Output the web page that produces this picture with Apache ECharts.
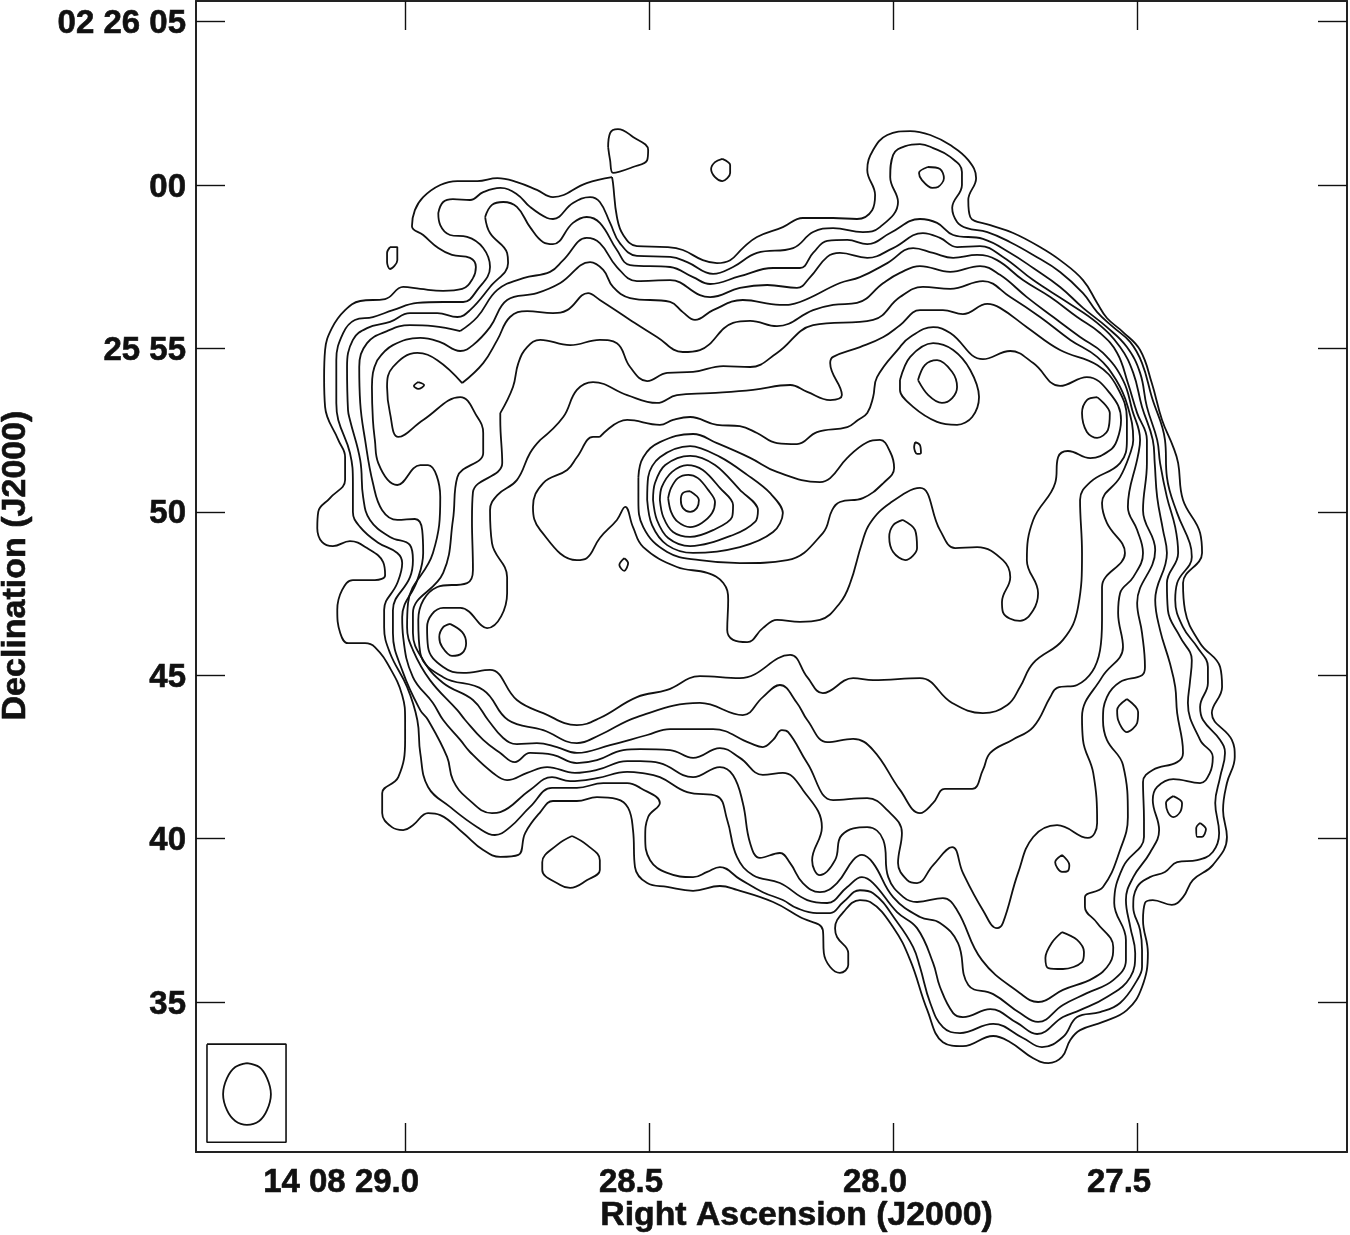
<!DOCTYPE html>
<html><head><meta charset="utf-8">
<style>html,body{margin:0;padding:0;background:#fff}#c{width:1350px;height:1235px}</style>
<script src="https://cdn.jsdelivr.net/npm/echarts@6/dist/echarts.min.js"></script>
</head><body><div id="c"></div>
<script>
// Right ascension in seconds after 14h 08m; declination in arcseconds after +02d 25m.
const raTicks = [29.0, 28.5, 28.0, 27.5];
const raTickLabels = ['14 08 29.0', '28.5', '28.0', '27.5'];
const decTicks = [35, 40, 45, 50, 55, 60, 65];
const decTickLabels = ['35', '40', '45', '50', '25 55', '00', '02 26 05'];
const raRange = [27.070, 29.4285];
const decRange = [30.41, 65.63];

const contour1 = [28.576,60.24,28.628,60.06,28.697,59.63,28.730,59.85,28.771,60.09,28.811,60.21,28.852,60.12,28.893,60.12,28.928,60.00,28.963,59.63,28.980,59.23,28.986,58.74,28.963,58.47,28.932,58.07,28.904,57.86,28.867,57.77,28.855,57.49,28.861,57.15,28.883,56.82,28.922,56.76,28.969,56.82,29.004,56.88,29.041,56.51,29.092,56.45,29.123,56.17,29.150,55.62,29.164,54.95,29.166,54.12,29.164,53.21,29.137,52.20,29.123,51.68,29.123,50.97,29.154,50.42,29.178,50.00,29.180,49.50,29.170,49.07,29.148,48.95,29.113,49.10,29.078,48.89,29.045,48.46,29.041,48.06,29.062,47.91,29.107,47.91,29.129,47.61,29.139,47.00,29.133,46.29,29.117,45.98,29.082,45.98,29.062,45.86,29.031,45.22,29.006,44.39,29.000,43.63,29.000,43.02,29.014,41.88,29.047,41.39,29.047,40.78,29.027,40.35,29.004,40.26,28.984,40.41,28.953,40.78,28.928,40.72,28.881,40.17,28.840,39.65,28.805,39.44,28.768,39.50,28.754,40.17,28.723,40.81,28.697,41.15,28.648,41.15,28.607,41.27,28.566,41.21,28.543,40.94,28.533,40.26,28.529,39.13,28.504,38.64,28.463,38.52,28.410,38.40,28.355,38.55,28.320,38.43,28.246,38.06,28.191,37.60,28.144,37.20,28.142,36.50,28.129,36.07,28.109,35.89,28.092,36.13,28.092,36.50,28.115,36.99,28.119,37.26,28.102,37.75,28.068,38.12,28.047,38.06,28.000,37.29,27.965,36.28,27.930,34.75,27.898,33.77,27.857,33.65,27.795,33.96,27.760,33.77,27.713,33.28,27.682,33.13,27.654,33.32,27.637,33.84,27.617,34.14,27.570,34.39,27.521,34.75,27.490,35.46,27.478,36.50,27.488,37.51,27.484,38.03,27.468,38.12,27.429,37.97,27.406,38.21,27.386,38.73,27.345,39.19,27.316,40.05,27.324,40.87,27.316,41.70,27.300,42.50,27.306,43.02,27.347,43.84,27.326,44.64,27.330,45.25,27.371,45.98,27.402,46.99,27.406,47.82,27.367,48.74,27.371,49.35,27.406,50.36,27.416,51.49,27.426,51.98,27.449,52.81,27.470,53.94,27.494,54.95,27.529,55.50,27.562,55.93,27.582,56.39,27.611,57.09,27.658,57.70,27.699,58.10,27.754,58.53,27.801,58.77,27.842,59.02,27.846,59.54,27.830,60.21,27.846,60.76,27.883,61.22,27.924,61.53,27.965,61.65,28.012,61.53,28.041,61.07,28.053,60.46,28.037,59.69,28.043,59.23,28.074,58.96,28.123,58.99,28.185,58.99,28.226,58.71,28.279,58.41,28.308,58.07,28.334,57.70,28.361,57.61,28.390,57.70,28.431,58.01,28.463,58.10,28.525,58.13,28.553,58.47,28.566,59.02,28.574,60.06];
const contour2 = [28.932,59.14,28.922,59.48,28.902,59.57,28.867,59.54,28.840,59.78,28.805,59.91,28.771,59.72,28.744,59.33,28.709,58.99,28.697,58.96,28.656,59.45,28.621,59.63,28.601,59.48,28.580,58.84,28.560,58.22,28.525,57.83,28.457,57.80,28.422,57.64,28.369,57.28,28.328,57.49,28.279,57.92,28.205,58.07,28.164,58.56,28.123,58.68,28.062,58.56,28.027,58.71,27.990,59.48,28.006,60.24,28.000,60.92,27.975,61.19,27.945,61.25,27.918,61.13,27.883,60.86,27.859,60.40,27.859,60.00,27.879,59.30,27.869,58.87,27.849,58.68,27.807,58.56,27.760,58.25,27.713,57.86,27.658,57.34,27.611,56.69,27.582,56.11,27.549,55.65,27.514,55.19,27.490,54.55,27.470,53.51,27.443,52.20,27.439,51.06,27.418,49.96,27.392,49.04,27.388,48.62,27.418,47.82,27.422,47.30,27.406,46.47,27.377,45.86,27.355,45.25,27.355,44.76,27.371,44.03,27.365,43.63,27.330,43.02,27.320,42.62,27.330,41.88,27.340,41.09,27.332,40.17,27.345,39.59,27.377,39.34,27.418,39.28,27.443,38.98,27.474,38.82,27.500,38.52,27.508,37.91,27.494,37.20,27.490,36.59,27.490,36.07,27.500,35.67,27.535,34.97,27.576,34.69,27.623,34.54,27.652,33.93,27.695,33.62,27.734,33.90,27.795,34.33,27.863,34.05,27.898,34.23,27.924,34.97,27.945,36.07,27.959,36.68,27.990,37.41,28.041,38.33,28.068,38.42,28.102,38.06,28.129,37.72,28.156,37.72,28.197,37.87,28.226,38.12,28.267,38.36,28.314,38.76,28.355,39.13,28.381,38.98,28.410,38.82,28.463,38.95,28.498,39.34,28.508,40.05,28.502,40.66,28.478,41.09,28.518,41.55,28.545,41.70,28.594,41.70,28.648,41.55,28.699,41.55,28.744,40.97,28.785,40.35,28.816,40.11,28.852,40.35,28.908,40.97,28.953,41.58,28.969,42.62,28.975,43.63,28.996,44.64,29.031,45.68,29.043,46.47,29.043,47.00,29.016,47.82,29.006,48.43,29.016,48.74,29.057,49.07,29.092,49.53,29.107,49.99,29.107,50.88,29.113,51.80,29.137,52.81,29.141,53.33,29.141,54.64,29.127,55.47,29.103,55.87,29.066,55.96,29.025,56.17,28.975,56.39,28.922,56.42,28.881,56.42,28.852,56.79,28.826,57.49,28.840,58.07,28.873,58.41,28.908,58.47,28.928,58.77];
const contour3 = [28.836,59.02,28.822,59.39,28.799,59.48,28.771,59.33,28.744,58.71,28.717,58.25,28.697,58.19,28.656,58.84,28.628,59.02,28.601,58.84,28.566,58.01,28.539,57.55,28.457,57.49,28.410,57.18,28.375,56.97,28.314,57.21,28.246,57.46,28.191,57.46,28.164,57.92,28.135,58.29,28.094,58.32,28.053,58.19,28.006,58.53,27.945,58.96,27.910,58.84,27.877,58.47,27.816,58.35,27.760,57.92,27.713,57.46,27.658,56.88,27.611,56.24,27.562,55.65,27.521,55.04,27.494,54.25,27.480,53.21,27.459,52.20,27.453,51.49,27.439,50.45,27.422,49.53,27.416,48.74,27.439,47.82,27.437,46.99,27.412,46.17,27.388,45.46,27.392,44.76,27.396,44.15,27.371,43.02,27.345,42.50,27.351,42.01,27.371,41.70,27.426,41.82,27.459,41.58,27.468,41.18,27.455,40.26,27.474,39.56,27.508,38.82,27.523,38.12,27.514,37.29,27.504,36.50,27.514,35.76,27.562,35.15,27.617,34.75,27.652,34.54,27.705,34.02,27.746,34.36,27.801,34.78,27.857,34.54,27.877,34.66,27.904,35.46,27.918,36.19,27.951,37.26,27.992,37.75,28.041,38.64,28.064,38.82,28.094,38.52,28.135,38.03,28.176,38.12,28.232,38.64,28.287,38.88,28.320,39.44,28.340,40.57,28.361,41.30,28.422,41.42,28.478,41.88,28.518,42.01,28.545,42.04,28.607,41.85,28.662,41.76,28.699,41.88,28.744,41.49,28.805,40.81,28.822,40.78,28.873,41.24,28.902,41.79,28.914,42.50,28.953,43.63,28.969,43.93,29.004,45.07,29.025,46.29,29.025,46.99,28.990,48.00,28.984,48.52,28.990,48.98,29.031,49.23,29.072,49.75,29.086,50.45,29.092,51.58,29.113,52.81,29.117,53.11,29.119,54.43,29.107,55.26,29.078,55.62,29.031,55.81,28.990,56.08,28.934,56.08,28.893,55.96,28.867,56.17,28.826,56.88,28.789,57.61,28.791,57.92,28.826,58.53];
const contour4 = [28.887,55.53,28.852,55.96,28.811,56.79,28.758,57.15,28.703,57.34,28.676,57.70,28.628,58.38,28.601,58.22,28.566,57.49,28.525,57.06,28.457,57.09,28.396,56.63,28.375,56.57,28.314,56.85,28.258,56.94,28.197,56.85,28.170,57.18,28.135,57.80,28.109,57.92,28.053,57.77,28.000,58.07,27.939,58.53,27.904,58.38,27.869,58.10,27.822,58.13,27.775,57.80,27.713,57.09,27.644,56.42,27.582,55.78,27.535,55.04,27.508,54.25,27.490,53.21,27.468,52.20,27.464,51.49,27.459,50.45,27.447,49.44,27.439,48.74,27.463,47.30,27.453,46.38,27.433,45.37,27.422,44.64,27.418,43.84,27.408,43.02,27.406,42.62,27.418,42.34,27.468,42.10,27.488,41.73,27.486,40.57,27.486,40.05,27.529,39.13,27.547,38.03,27.523,36.90,27.523,36.28,27.549,35.67,27.603,35.27,27.652,34.91,27.703,34.39,27.740,34.66,27.795,35.24,27.846,35.52,27.867,36.80,27.904,37.42,27.945,37.60,28.000,38.21,28.041,39.25,28.064,39.50,28.082,39.34,28.115,38.64,28.150,38.36,28.185,38.64,28.211,39.25,28.232,39.56,28.273,39.41,28.293,39.86,28.308,41.09,28.328,41.94,28.355,42.19,28.410,41.88,28.478,42.31,28.518,42.37,28.545,42.37,28.607,42.10,28.652,42.01,28.709,42.19,28.750,42.01,28.791,41.79,28.820,42.01,28.867,42.65,28.887,43.02,28.922,43.63,28.943,44.15,28.984,44.94,29.004,46.17,29.006,46.78,28.975,47.91,28.963,48.74,28.965,49.44,28.980,49.78,29.016,49.75,29.047,50.05,29.066,50.88,29.082,52.20,29.092,53.33,29.094,54.43,29.078,55.16,29.037,55.53,28.990,55.71,28.943,55.68];
const contour5 = [29.057,54.64,29.025,55.10,28.969,55.32,28.928,55.19,28.887,54.92,28.861,55.10,28.826,55.65,28.791,56.48,28.730,56.69,28.682,57.00,28.621,57.64,28.594,57.40,28.574,56.88,28.539,56.54,28.457,56.42,28.431,56.11,28.406,55.87,28.369,56.17,28.308,56.48,28.232,56.33,28.191,56.42,28.109,57.00,28.068,57.18,28.012,57.61,27.959,58.07,27.918,57.92,27.877,57.77,27.828,57.86,27.787,57.70,27.734,57.09,27.678,56.57,27.623,55.96,27.576,55.47,27.541,54.86,27.519,53.94,27.500,53.02,27.480,52.20,27.480,51.49,27.488,50.05,27.463,48.83,27.500,47.21,27.490,46.29,27.484,45.25,27.490,45.00,27.535,44.79,27.562,44.33,27.570,43.63,27.562,43.02,27.529,42.25,27.519,40.66,27.535,39.65,27.570,38.52,27.607,38.21,27.607,37.91,27.582,37.42,27.549,36.68,27.556,36.19,27.590,35.73,27.652,35.37,27.703,35.00,27.740,35.27,27.818,36.28,27.869,37.81,27.898,38.18,27.951,38.06,27.979,38.21,28.010,38.82,28.020,39.95,28.053,40.35,28.105,40.11,28.119,39.34,28.150,38.88,28.166,39.34,28.146,40.35,28.185,41.49,28.226,42.01,28.267,41.95,28.314,42.47,28.355,42.77,28.410,42.47,28.457,42.71,28.518,42.74,28.553,42.71,28.607,42.40,28.648,42.31,28.697,42.56,28.744,42.62,28.775,42.34,28.805,42.62,28.840,43.02,28.877,43.63,28.893,43.93,28.949,44.85,28.984,45.77,28.996,46.47,28.994,47.21,28.943,48.74,28.928,50.45,28.953,51.43,28.969,51.43,29.016,50.82,29.055,51.49,29.062,52.20,29.066,52.81,29.068,53.82,29.066,54.25];
const contour6 = [28.883,53.94,28.840,54.55,28.811,55.26,28.785,55.96,28.750,56.14,28.697,56.08,28.668,56.17,28.625,56.69,28.601,56.48,28.539,55.87,28.484,55.35,28.431,54.89,28.396,54.95,28.328,55.78,28.293,55.84,28.238,55.68,28.164,56.17,28.123,56.33,28.074,56.39,28.020,57.00,27.986,57.31,27.945,57.52,27.883,57.34,27.822,57.52,27.781,57.25,27.726,56.57,27.672,55.96,27.617,55.35,27.570,54.86,27.529,54.03,27.510,53.11,27.494,52.20,27.498,51.74,27.519,50.15,27.500,49.44,27.488,48.74,27.508,48.00,27.535,47.51,27.539,46.90,27.529,45.86,27.572,44.94,27.613,43.72,27.611,43.02,27.590,42.01,27.582,40.48,27.601,40.02,27.664,40.41,27.713,40.05,27.744,38.95,27.775,37.42,27.787,37.26,27.816,37.81,27.857,38.95,27.879,39.74,27.918,39.19,27.951,38.64,27.971,38.73,27.990,39.25,27.982,40.17,28.012,40.87,28.053,41.24,28.123,41.18,28.176,42.31,28.215,43.26,28.228,43.32,28.246,43.02,28.267,42.80,28.293,42.92,28.369,43.35,28.457,43.35,28.504,43.17,28.580,42.86,28.648,42.62,28.689,42.80,28.730,42.92,28.771,42.89,28.799,43.08,28.830,43.63,28.861,44.24,28.922,44.76,28.963,45.46,28.984,46.29,28.984,46.90,28.922,48.13,28.902,49.75,28.893,51.06,28.840,51.80,28.840,52.41,28.852,52.90,28.887,53.51,28.963,52.81,29.014,52.29,29.031,53.02,29.037,53.82,29.025,54.43,28.975,54.86,28.934,54.64];
const contour7 = [28.805,53.02,28.779,53.82,28.768,54.55,28.750,55.04,28.723,55.26,28.662,55.10,28.601,55.26,28.566,55.16,28.539,54.43,28.504,54.00,28.463,54.25,28.410,54.28,28.348,54.46,28.293,54.43,28.238,54.86,28.164,55.71,28.041,55.87,27.986,56.57,27.939,56.88,27.883,56.82,27.816,57.06,27.760,56.57,27.699,55.96,27.637,55.26,27.582,54.74,27.543,54.03,27.519,53.21,27.508,52.20,27.514,51.80,27.535,51.06,27.572,50.27,27.562,49.66,27.525,48.74,27.572,47.70,27.572,46.69,27.576,45.77,27.623,44.70,27.664,44.61,27.678,44.33,27.713,43.41,27.756,43.02,27.801,42.62,27.816,42.10,27.838,41.52,27.894,41.52,27.918,41.09,27.945,40.78,27.986,41.49,28.041,42.71,28.082,43.05,28.135,42.95,28.176,43.63,28.197,44.15,28.232,44.70,28.267,44.33,28.308,43.78,28.396,44.15,28.525,43.72,28.601,43.17,28.648,42.92,28.717,43.32,28.789,43.63,28.840,44.55,28.922,44.94,28.969,45.68,28.973,46.69,28.934,47.70,28.873,47.82,28.861,48.22,28.863,49.75,28.861,50.60,28.801,51.49,28.805,52.81];
const contour8 = [28.723,52.20,28.676,52.90,28.648,53.73,28.615,53.97,28.545,53.57,28.484,53.33,28.443,53.57,28.375,53.63,28.287,53.73,28.211,53.88,28.176,53.67,28.129,53.42,28.105,53.57,28.129,54.55,28.123,54.74,28.068,55.04,28.020,55.35,27.986,55.71,27.945,56.17,27.898,56.17,27.857,56.05,27.807,56.36,27.781,56.24,27.726,55.65,27.658,54.95,27.582,54.49,27.541,53.82,27.521,52.81,27.521,52.20,27.535,51.49,27.596,50.91,27.617,50.36,27.613,48.74,27.621,47.09,27.652,46.08,27.713,45.37,27.740,44.64,27.766,44.09,27.816,43.84,27.879,44.15,27.945,44.91,28.041,44.85,28.082,44.91,28.144,44.45,28.176,44.94,28.211,45.62,28.314,44.91,28.396,44.97,28.463,44.55,28.525,44.33,28.601,43.69,28.648,43.47,28.717,43.84,28.771,44.24,28.826,45.16,28.881,45.07,28.922,45.25,28.953,45.86,28.955,46.47,28.922,47.06,28.887,47.06,28.832,46.44,28.791,47.51,28.791,48.00,28.822,49.04,28.826,50.05,28.811,50.51,28.771,50.97,28.744,51.80];
const contour9 = [28.601,52.29,28.545,52.81,28.478,52.66,28.451,52.81,28.416,52.90,28.361,52.66,28.314,52.62,28.279,52.41,28.238,52.10,28.197,52.07,28.156,52.44,28.094,52.59,28.072,52.81,28.053,53.02,28.041,53.51,28.033,54.12,27.986,55.04,27.965,55.35,27.918,55.65,27.883,55.47,27.816,54.67,27.760,54.92,27.713,54.55,27.658,53.85,27.603,54.12,27.556,53.63,27.533,52.81,27.541,52.20,27.555,51.89,27.596,51.64,27.642,51.86,27.662,51.67,27.668,50.88,27.713,49.75,27.726,48.52,27.703,47.51,27.713,46.99,27.740,46.66,27.775,46.93,27.777,47.24,27.760,48.00,27.775,48.52,27.828,48.92,27.873,48.89,27.904,49.44,27.945,50.73,28.006,50.27,28.047,49.66,28.064,49.04,28.088,47.82,28.109,47.21,28.150,46.69,28.191,46.63,28.238,46.69,28.267,46.44,28.299,46.01,28.328,46.08,28.340,46.38,28.338,47.30,28.348,47.82,28.381,48.13,28.443,48.31,28.512,48.92,28.533,49.53,28.549,50.15,28.566,49.75,28.601,49.20,28.628,48.58,28.648,48.52,28.723,49.44,28.738,50.15,28.717,50.88,28.668,51.28,28.648,51.67,28.615,52.29];
const coreRing6 = [28.522,51.06,28.512,51.67,28.478,52.13,28.410,52.38,28.361,52.10,28.293,51.65,28.238,51.22,28.150,50.91,28.129,51.03,28.094,51.65,28.053,52.13,28.027,52.20,28.006,51.83,27.998,51.34,28.020,50.88,28.062,50.42,28.109,50.30,28.125,50.05,28.144,49.35,28.217,48.52,28.314,48.43,28.396,48.52,28.463,48.77,28.512,49.53,28.522,50.36];
const coreRing5 = [28.504,50.36,28.502,51.06,28.478,51.67,28.416,52.01,28.355,51.68,28.299,51.13,28.252,50.57,28.226,49.96,28.246,49.38,28.314,48.92,28.410,48.74,28.463,48.98,28.494,49.59];
const coreRing4 = [28.492,50.36,28.488,50.88,28.467,51.43,28.416,51.71,28.365,51.43,28.314,50.67,28.277,50.05,28.283,49.69,28.328,49.29,28.416,48.95,28.461,49.20,28.484,49.75];
const coreRing3 = [28.478,50.36,28.474,50.76,28.453,51.22,28.422,51.43,28.390,51.28,28.355,50.73,28.328,50.21,28.330,49.84,28.369,49.44,28.416,49.23,28.451,49.38,28.471,49.84];
const coreRing2 = [28.461,50.42,28.455,50.73,28.441,51.03,28.420,51.13,28.400,51.03,28.379,50.67,28.365,50.30,28.371,49.96,28.392,49.66,28.416,49.53,28.441,49.69,28.455,50.00];
const coreRing1 = [28.416,50.63,28.398,50.36,28.402,50.12,28.416,50.00,28.431,50.12,28.435,50.36,28.431,50.57];
const islandTriangle = [28.584,61.16,28.580,61.59,28.564,61.71,28.533,61.47,28.502,61.07,28.504,60.76,28.533,60.55,28.574,60.37,28.580,60.76];
const islandTopCircle = [28.350,60.80,28.334,60.61,28.334,60.37,28.350,60.12,28.365,60.24,28.373,60.49,28.365,60.70];
const islandLeft = [29.031,58.10,29.016,58.10,29.016,57.70,29.031,57.43,29.037,57.64,29.037,57.92];
const islandBottom = [28.658,40.08,28.627,39.80,28.601,39.34,28.601,39.04,28.627,38.73,28.662,38.49,28.682,38.58,28.719,39.04,28.719,39.28,28.689,39.80];
const peakTop = [27.929,60.55,27.904,60.49,27.896,60.21,27.908,59.94,27.920,59.91,27.941,60.15,27.947,60.37];
const peakNEouter = [27.986,54.03,27.965,54.74,27.918,55.16,27.877,54.95,27.842,54.34,27.824,53.51,27.838,52.90,27.869,52.66,27.910,52.75,27.959,53.21,27.986,53.73];
const peakNEinner = [27.949,54.03,27.935,54.49,27.910,54.64,27.879,54.28,27.869,53.82,27.879,53.48,27.900,53.33,27.928,53.57];
const peakEast = [27.582,53.51,27.556,53.02,27.560,52.50,27.582,52.26,27.603,52.44,27.613,53.02,27.603,53.42];
const peakCentre = [27.980,49.75,27.955,49.44,27.951,48.89,27.975,48.52,28.000,48.77,28.008,49.23,28.000,49.59];
const peakWest = [28.908,46.57,28.883,46.32,28.875,45.98,28.883,45.68,28.904,45.59,28.924,45.86,28.930,46.17,28.922,46.47];
const peakSE1 = [27.521,44.27,27.498,43.87,27.500,43.54,27.521,43.26,27.539,43.63,27.541,43.93];
const peakSE2 = [27.654,37.14,27.623,36.90,27.609,36.53,27.613,36.22,27.652,36.01,27.682,36.04,27.688,36.35,27.674,36.83];
const peakSE3 = [27.426,41.30,27.408,41.09,27.412,40.81,27.426,40.66,27.437,40.81,27.441,41.09];
const peakSE4 = [27.371,40.48,27.359,40.29,27.367,40.05,27.377,40.05,27.379,40.32];
const peakSE5 = [27.654,39.50,27.639,39.19,27.642,39.01,27.654,38.98,27.668,39.28];
const peakSmallA = [28.551,48.58,28.543,48.43,28.551,48.19,28.561,48.37];
const peakSmallB = [27.955,52.13,27.945,52.04,27.943,51.80,27.951,51.77,27.957,51.98];
const peakSmallC = [28.973,53.97,28.961,53.88,28.973,53.76,28.982,53.85];
const beamEllipse = [29.324,33.13,29.299,33.01,29.283,32.67,29.275,32.18,29.283,31.69,29.299,31.36,29.324,31.24,29.348,31.36,29.365,31.69,29.373,32.18,29.365,32.67,29.348,33.01];
const beamBox = [29.406,33.71,29.244,33.71,29.244,30.71,29.406,30.71];

const contours = [contour1,contour2,contour3,contour4,contour5,contour6,contour7,contour8,contour9,coreRing6,islandTriangle,islandBottom];
const roundShapes = [coreRing5,coreRing4,coreRing3,coreRing2,coreRing1,islandTopCircle,islandLeft,
  peakTop,peakNEouter,peakNEinner,peakEast,peakCentre,peakWest,
  peakSE1,peakSE2,peakSE3,peakSE4,peakSE5,peakSmallA,peakSmallB,peakSmallC,beamEllipse];

function closed(flat){
  const pts=[];
  for(let i=0;i<flat.length;i+=2) pts.push([flat[i],flat[i+1]]);
  pts.push(pts[0]);
  return pts;
}
const font='"Liberation Sans", Arial, sans-serif';
const lineOf=(c,smooth)=>({type:'line',data:closed(c),smooth,symbol:'none',silent:true,
  lineStyle:{color:'#111',width:1.8},animation:false});
const series = [...contours.map(c=>lineOf(c,0.42)),...roundShapes.map(c=>lineOf(c,0.34))];
series.push({type:'line',data:closed(beamBox),smooth:false,symbol:'none',silent:true,lineStyle:{color:'#111',width:1.6},animation:false});

const tick={show:true,inside:true,length:29,lineStyle:{color:'#111',width:1.4}};
const axisLine={show:true,onZero:false,lineStyle:{color:'#222',width:2}};
const heavy={textBorderColor:'#111',textBorderWidth:0.6};
const chart=echarts.init(document.getElementById('c'),null,{renderer:'canvas'});
chart.setOption({
  animation:false,
  backgroundColor:'#fff',
  grid:{left:196,top:1,right:3,bottom:83,containLabel:false,outerBoundsMode:'none'},
  xAxis:[
    {type:'value',inverse:true,min:raRange[0],max:raRange[1],position:'bottom',
     name:'Right Ascension (J2000)',nameLocation:'middle',nameGap:47,nameMoveOverlap:false,
     nameTextStyle:{fontFamily:font,fontWeight:'bold',fontSize:33.8,color:'#111',padding:[0,0,0,50],...heavy},
     splitLine:{show:false},axisLine,
     axisTick:{...tick,customValues:raTicks},
     axisLabel:{customValues:raTicks,align:'right',margin:14,padding:[0,-14,0,0],fontFamily:font,fontWeight:'bold',fontSize:33,color:'#111',...heavy,
       formatter:v=>raTickLabels[raTicks.indexOf(v)]}},
    {type:'value',inverse:true,min:raRange[0],max:raRange[1],position:'top',
     splitLine:{show:false},axisLine,axisTick:{...tick,customValues:raTicks},
     axisLabel:{show:false,customValues:raTicks}}
  ],
  yAxis:[
    {type:'value',min:decRange[0],max:decRange[1],position:'left',
     name:'Declination (J2000)',nameLocation:'middle',nameGap:163,nameMoveOverlap:false,
     nameTextStyle:{fontFamily:font,fontWeight:'bold',fontSize:34,color:'#111',padding:[0,0,0,22],...heavy},
     splitLine:{show:false},axisLine,
     axisTick:{...tick,customValues:decTicks},
     axisLabel:{customValues:decTicks,margin:10,verticalAlign:'top',padding:[-14,0,0,0],fontFamily:font,fontWeight:'bold',fontSize:33,color:'#111',...heavy,
       formatter:v=>decTickLabels[decTicks.indexOf(v)]}},
    {type:'value',min:decRange[0],max:decRange[1],position:'right',
     splitLine:{show:false},axisLine,axisTick:{...tick,customValues:decTicks},
     axisLabel:{show:false,customValues:decTicks}}
  ],
  series
});
</script></body></html>
